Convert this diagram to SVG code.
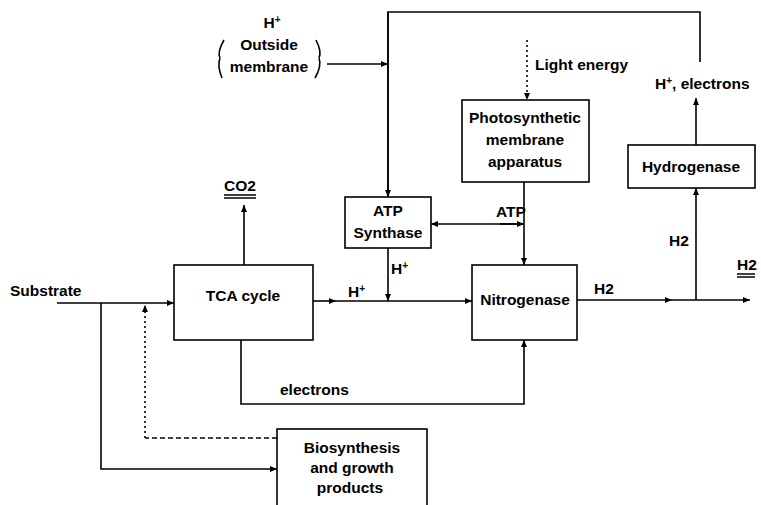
<svg xmlns="http://www.w3.org/2000/svg" width="761" height="505" viewBox="0 0 761 505">
<defs>
<marker id="ah" markerWidth="8" markerHeight="8" refX="7" refY="4" orient="auto" markerUnits="userSpaceOnUse">
<path d="M0,1 L7,4 L0,7 Z" fill="#000"/>
</marker>
<marker id="as" markerWidth="8" markerHeight="8" refX="1" refY="4" orient="auto" markerUnits="userSpaceOnUse">
<path d="M8,1 L1,4 L8,7 Z" fill="#000"/>
</marker>
<style>
text{font-family:"Liberation Sans",Arial,sans-serif;font-weight:bold;font-size:15.5px;fill:#000}
.c{text-anchor:middle}
.box{fill:#fff;stroke:#000;stroke-width:1.6}
.ln{fill:none;stroke:#000;stroke-width:1.6}
.ar{marker-end:url(#ah)}
.dot{stroke-dasharray:2,3}
.dash{stroke-dasharray:5,3}
.sup{font-size:10px}
</style>
</defs>
<g id="connectors">
<path class="ln" d="M388,197 L388,12 L700,12 L700,62"/>
<path class="ln ar" d="M388,12 L388,197"/>
<path class="ln ar" d="M327,64 L388,64"/>
<path class="ln dot ar" d="M527,40 L527,100"/>
<path class="ln ar" d="M524,182 L524,265"/>
<path class="ln ar" d="M500,224 L524,224"/>
<path class="ln" d="M431,224 L524,224" marker-start="url(#as)"/>
<path class="ln ar" d="M388,248 L388,301"/>
<path class="ln ar" d="M313,301 L336,301"/>
<path class="ln ar" d="M336,301 L472,301"/>
<path class="ln ar" d="M244,265 L244,205"/>
<path class="ln ar" d="M57,303 L174,303"/>
<path class="ln ar" d="M101,303 L101,469 L277,469"/>
<path class="ln dash" d="M277,438 L145,438"/>
<path class="ln dot ar" d="M145,438 L145,305"/>
<path class="ln ar" d="M241,340 L241,404 L524,404 L524,340"/>
<path class="ln ar" d="M577,300 L672,300"/>
<path class="ln ar" d="M672,300 L750,300"/>
<path class="ln ar" d="M696,300 L696,188"/>
<path class="ln ar" d="M696,145 L696,98"/>
</g>
<g id="n-outside">
<text class="c" x="272" y="28">H<tspan class="sup" dy="-5">+</tspan></text>
<text class="c" x="269" y="50">Outside</text>
<text class="c" x="269" y="72">membrane</text>
<path class="ln" d="M224,40 Q217,52 220,58 M220,58 Q217,66 222,78" stroke-width="1.4"/>
<path class="ln" d="M316,40 Q322,52 319,58 M319,58 Q322,66 315,78" stroke-width="1.4"/>
</g>
<g id="n-light"><text x="535" y="70">Light energy</text></g>
<g id="n-photo">
<rect class="box" x="462" y="100" width="127" height="82"/>
<text class="c" x="525" y="123">Photosynthetic</text>
<text class="c" x="525" y="145">membrane</text>
<text class="c" x="525" y="167">apparatus</text>
</g>
<g id="n-hpe"><text x="655" y="89">H<tspan class="sup" dy="-5">+</tspan><tspan dy="5">, electrons</tspan></text></g>
<g id="n-hydrogenase">
<rect class="box" x="628" y="145" width="127" height="43"/>
<text class="c" x="691" y="172">Hydrogenase</text>
</g>
<g id="n-atps">
<rect class="box" x="345" y="197" width="86" height="51"/>
<text class="c" x="388" y="216">ATP</text>
<text class="c" x="388" y="238">Synthase</text>
</g>
<g id="n-co2">
<text class="c" x="240" y="191">CO2</text>
<path class="ln" d="M224,195 L256,195 M224,198 L256,198" stroke-width="1.2"/>
</g>
<g id="n-tca">
<rect class="box" x="174" y="265" width="139" height="75"/>
<text class="c" x="243" y="301">TCA cycle</text>
</g>
<g id="n-nitro">
<rect class="box" x="472" y="265" width="105" height="75"/>
<text class="c" x="525" y="305">Nitrogenase</text>
</g>
<g id="n-bio">
<rect class="box" x="277" y="429" width="150" height="90"/>
<text class="c" x="352" y="453">Biosynthesis</text>
<text class="c" x="352" y="473">and growth</text>
<text class="c" x="350" y="493">products</text>
</g>
<g id="labels">
<text x="10" y="296">Substrate</text>
<text x="496" y="217">ATP</text>
<text x="391" y="274">H<tspan class="sup" dy="-5">+</tspan></text>
<text x="348" y="297">H<tspan class="sup" dy="-5">+</tspan></text>
<text x="280" y="395">electrons</text>
<text x="594" y="294">H2</text>
<text x="669" y="246">H2</text>
<text x="737" y="270">H2</text>
<path class="ln" d="M737,274 L755,274 M737,277 L755,277" stroke-width="1.2"/>
</g>
</svg>
